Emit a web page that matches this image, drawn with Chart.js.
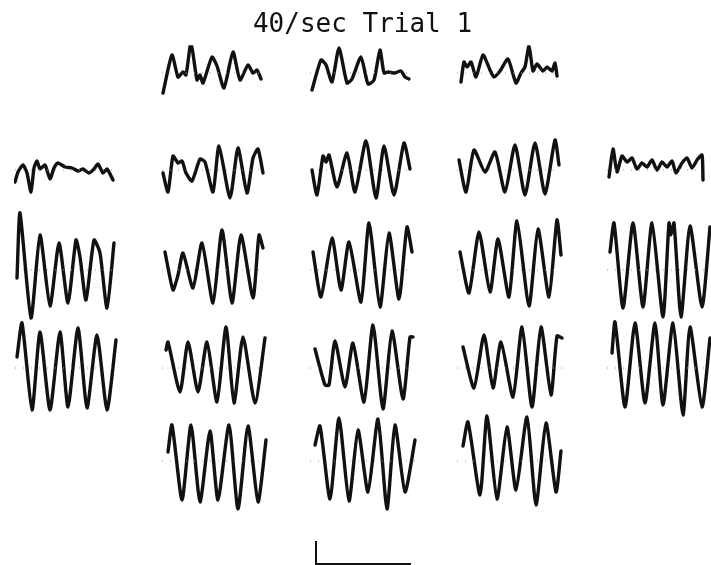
<!DOCTYPE html>
<html>
<head>
<meta charset="utf-8">
<script src="https://cdn.jsdelivr.net/npm/chart.js@4.4.1/dist/chart.umd.min.js"></script>
<style>
body{margin:0;background:#fff;}
canvas{display:block;}
</style>
</head>
<body>
<canvas id="trial-chart" width="711" height="565"></canvas>
<script>
// traces read off the figure : [time, amplitude] (amplitude up = positive)
// row 0
const r0c2 = [[1,-20],[10,18],[16,-4],[21,1],[24,-2],[29,30],[35,-7],[38,-2],[41,-10],[50,16],[55,7],[62,-15],[71,21],[78,-7],[86,8],[91,0],[95,3],[99,-6]];
const r0c3 = [[2,-17],[11,13],[16,8],[22,-9],[29,25],[37,-10],[42,-6],[51,16],[58,-11],[64,-7],[70,23],[74,0],[78,1],[85,0],[91,2],[95,-4],[99,-6]];
const r0c4 = [[4,-9],[7,11],[10,6],[14,11],[19,-4],[26,18],[33,3],[37,-4],[43,2],[51,14],[59,-10],[64,0],[68,6],[72,27],[76,2],[80,9],[86,2],[90,6],[95,2],[98,10],[100,-3]];
// row 1
const r1c1 = [[0,-12],[3,-2],[8,5],[12,-3],[16,-22],[19,2],[22,9],[25,1],[30,5],[35,-9],[39,2],[43,7],[50,3],[57,2],[63,-1],[68,1],[74,-3],[79,1],[83,6],[88,-3],[92,1],[98,-10]];
const r1c2 = [[1,-3],[6,-22],[11,14],[16,7],[20,9],[24,-3],[30,-11],[38,11],[43,8],[51,-22],[57,24],[68,-28],[76,22],[85,-23],[91,12],[96,21],[101,-3]];
const r1c3 = [[2,0],[7,-25],[13,14],[16,8],[19,15],[27,-17],[37,17],[45,-22],[56,29],[66,-28],[74,24],[84,-25],[94,27],[100,1]];
const r1c4 = [[2,10],[9,-22],[17,20],[28,-2],[38,18],[48,-22],[58,25],[68,-25],[78,27],[88,-24],[98,30],[102,5]];
const r1c5 = [[2,-7],[6,21],[10,-2],[15,14],[20,8],[25,12],[30,1],[35,7],[40,3],[45,10],[50,0],[55,8],[60,3],[65,9],[69,-3],[75,7],[80,12],[85,2],[90,10],[95,15],[96,-10]];
// row 2
const r2c1 = [[2,-8],[5,57],[16,-48],[25,35],[35,-36],[44,27],[53,-33],[61,30],[65,13],[71,-30],[79,30],[85,17],[92,-38],[99,27]];
const r2c2 = [[3,18],[11,-20],[16,-5],[21,17],[31,-18],[40,27],[51,-33],[60,40],[70,-33],[79,35],[91,-28],[97,35],[101,22]];
const r2c3 = [[3,18],[11,-27],[22,32],[31,-20],[39,28],[51,-32],[59,47],[70,-37],[79,37],[89,-29],[97,43],[102,18]];
const r2c4 = [[3,18],[12,-23],[22,38],[33,-22],[41,31],[52,-27],[60,49],[72,-36],[81,41],[92,-27],[100,50],[104,15]];
const r2c5 = [[3,18],[7,47],[16,-38],[26,47],[36,-37],[45,47],[56,-47],[62,47],[64,35],[67,47],[74,-47],[83,44],[95,-37],[103,43]];
// row 3
const r3c1 = [[2,11],[7,45],[17,-42],[25,36],[35,-42],[45,36],[53,-39],[63,40],[72,-40],[82,33],[92,-42],[101,28]];
const r3c2 = [[4,18],[6,26],[18,-24],[26,26],[36,-24],[45,26],[55,-34],[64,41],[72,-35],[81,31],[93,-35],[103,30]];
const r3c3 = [[5,19],[15,-17],[19,-17],[25,27],[35,-19],[43,25],[54,-34],[63,43],[73,-41],[82,37],[93,-31],[100,31],[103,31]];
const r3c4 = [[6,21],[17,-20],[27,33],[36,-20],[44,26],[56,-29],[65,41],[75,-39],[84,41],[94,-27],[100,32],[105,30]];
const r3c5 = [[5,15],[8,46],[18,-39],[28,45],[38,-35],[48,45],[56,-37],[66,45],[76,-47],[83,41],[95,-39],[103,30]];
// row 4
const r4c2 = [[6,9],[10,36],[20,-39],[29,36],[38,-41],[48,30],[56,-39],[67,36],[76,-48],[86,35],[96,-41],[104,21]];
const r4c3 = [[5,16],[10,35],[20,-38],[29,43],[39,-40],[48,31],[58,-31],[68,42],[77,-48],[85,36],[95,-31],[105,21]];
const r4c4 = [[6,15],[11,39],[23,-34],[30,45],[40,-38],[50,34],[59,-29],[70,44],[79,-44],[89,38],[99,-31],[104,10]];

// calibration bar (time, amplitude)
const calBar = [[0,23],[0,0],[95,0]];

// layout of the panels
const colX = [15, 162, 310, 457, 607];
const rowBase = [73, 170, 270, 368, 461];
const calOrigin = {x: 316, y: 564};

const traces = [
	{row:0, col:1, data:r0c2}, {row:0, col:2, data:r0c3}, {row:0, col:3, data:r0c4},
	{row:1, col:0, data:r1c1}, {row:1, col:1, data:r1c2}, {row:1, col:2, data:r1c3}, {row:1, col:3, data:r1c4}, {row:1, col:4, data:r1c5},
	{row:2, col:0, data:r2c1}, {row:2, col:1, data:r2c2}, {row:2, col:2, data:r2c3}, {row:2, col:3, data:r2c4}, {row:2, col:4, data:r2c5},
	{row:3, col:0, data:r3c1}, {row:3, col:1, data:r3c2}, {row:3, col:2, data:r3c3}, {row:3, col:3, data:r3c4}, {row:3, col:4, data:r3c5},
	{row:4, col:1, data:r4c2}, {row:4, col:2, data:r4c3}, {row:4, col:3, data:r4c4}
];

const TITLE_H = 26 * 1.2 + 10 + 4;
const PAD_LEFT = 14;

function build_Datasets(){
	var datasets = [];
	for (const tr of traces){
		var x0 = colX[tr.col];
		var y0 = rowBase[tr.row];
		var last = tr.data[tr.data.length - 1][0];
		// dotted zero line
		datasets.push({
			data: [{x: x0, y: y0}, {x: x0 + last, y: y0}],
			borderColor: '#9a9a9a',
			borderWidth: 1,
			borderDash: [1, 7],
			showLine: true,
			pointRadius: 0
		});
		datasets.push({
			data: tr.data.map(function(p){ return {x: x0 + p[0], y: y0 - p[1]}; }),
			borderColor: '#111',
			borderWidth: 3.4,
			tension: 0.2,
			showLine: true,
			pointRadius: 0,
			borderCapStyle: 'round',
			borderJoinStyle: 'round'
		});
	}
	datasets.push({
		data: calBar.map(function(p){ return {x: calOrigin.x + p[0], y: calOrigin.y - p[1]}; }),
		borderColor: '#111',
		borderWidth: 2,
		showLine: true,
		pointRadius: 0,
		tension: 0
	});
	return datasets;
}

new Chart(document.getElementById("trial-chart"), {
	type: 'scatter',
	data: { datasets: build_Datasets() },
	options: {
		responsive: false,
		animation: false,
		layout: { padding: { left: PAD_LEFT, top: 0, right: 0, bottom: 0 } },
		plugins: {
			legend: { display: false },
			tooltip: { enabled: false },
			title: {
				display: true,
				text: '40/sec Trial 1',
				color: '#111',
				font: { family: 'DejaVu Sans Mono', size: 26, weight: 'normal' },
				padding: { top: 10, bottom: 4 }
			}
		},
		scales: {
			x: { type: 'linear', display: false, min: PAD_LEFT, max: 711 },
			y: { type: 'linear', display: false, reverse: true, min: TITLE_H, max: 565 }
		}
	}
});
</script>
</body>
</html>
